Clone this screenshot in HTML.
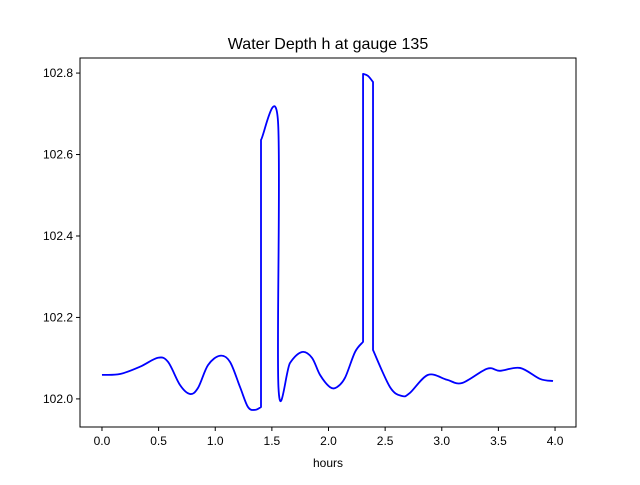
<!DOCTYPE html>
<html><head><meta charset="utf-8"><style>body{margin:0;background:#fff}svg{font-family:"Liberation Sans","DejaVu Sans",sans-serif}</style></head>
<body>
<svg id="c" width="640" height="480"></svg>
<script>
const times=[0,0.159,0.336,0.494,0.583,0.689,0.777,0.848,0.936,1.042,1.130,1.219,1.289,1.351,1.404,1.404,1.554,1.558,1.660,1.766,1.854,1.925,2.013,2.075,2.146,2.234,2.305,2.305,2.349,2.393,2.393,2.543,2.649,2.720,2.879,3.046,3.179,3.400,3.514,3.691,3.868,3.982];
const depth=[102.059,102.061,102.079,102.101,102.091,102.034,102.012,102.027,102.083,102.106,102.091,102.029,101.980,101.973,101.980,102.636,102.682,102.029,102.088,102.115,102.101,102.059,102.029,102.029,102.052,102.115,102.140,102.798,102.793,102.778,102.120,102.029,102.007,102.015,102.059,102.047,102.039,102.074,102.069,102.076,102.049,102.044];
const xTicks=[0,0.5,1,1.5,2,2.5,3,3.5,4];
const yTicks=[102.0,102.2,102.4,102.6,102.8];
const L=80,R=576,T=58,B=427,x0=-0.194,x1=4.185,y0=101.931,y1=102.837;
const sx=v=>L+(v-x0)/(x1-x0)*(R-L), sy=v=>B-(v-y0)/(y1-y0)*(B-T);
const svg=document.getElementById('c'),NS='http://www.w3.org/2000/svg';
function mk(t,a,p){const e=document.createElementNS(NS,t);for(const k in a)e.setAttribute(k,a[k]);(p||svg).appendChild(e);return e;}
const title=mk('text',{x:328,y:49,'text-anchor':'middle','font-size':16});title.textContent='Water Depth h at gauge 135';


// build runs split at vertical jumps, smooth with Catmull-Rom
const pts=times.map((t,i)=>[sx(t),sy(depth[i])]);
const runs=[];let cur=[pts[0]];
for(let i=1;i<pts.length;i++){if(times[i]===times[i-1]){runs.push(cur);cur=[pts[i]];}else cur.push(pts[i]);}
runs.push(cur);
let d='M'+pts[0][0]+','+pts[0][1];
runs.forEach((r,ri)=>{
  if(ri>0)d+=' L'+r[0][0]+','+r[0][1];
  for(let i=0;i<r.length-1;i++){
    const p0=r[Math.max(0,i-1)],p1=r[i],p2=r[i+1],p3=r[Math.min(r.length-1,i+2)];
    const c1=[p1[0]+(p2[0]-p0[0])/6,p1[1]+(p2[1]-p0[1])/6];
    const c2=[p2[0]-(p3[0]-p1[0])/6,p2[1]-(p3[1]-p1[1])/6];
    d+=' C'+c1[0]+','+c1[1]+' '+c2[0]+','+c2[1]+' '+p2[0]+','+p2[1];
  }
});
const line=mk('path',{d:d,fill:'none',stroke:'#0000ff','stroke-width':1.8,'stroke-linejoin':'round'});


const frame=mk('rect',{x:L,y:T,width:R-L,height:B-T,fill:'none',stroke:'#000','stroke-width':1});


xTicks.forEach(v=>{const x=sx(v);mk('line',{x1:x,x2:x,y1:B,y2:B+4,stroke:'#000'});
const t=mk('text',{x:x,y:B+18,'text-anchor':'middle','font-size':12});t.textContent=v.toFixed(1);

});
yTicks.forEach(v=>{const y=sy(v);mk('line',{x1:L-4,x2:L,y1:y,y2:y,stroke:'#000'});
const t=mk('text',{x:L-7,y:y+4,'text-anchor':'end','font-size':12});t.textContent=v.toFixed(1);

});
const xl=mk('text',{x:328,y:467,'text-anchor':'middle','font-size':12});xl.textContent='hours';


</script>
</body></html>
